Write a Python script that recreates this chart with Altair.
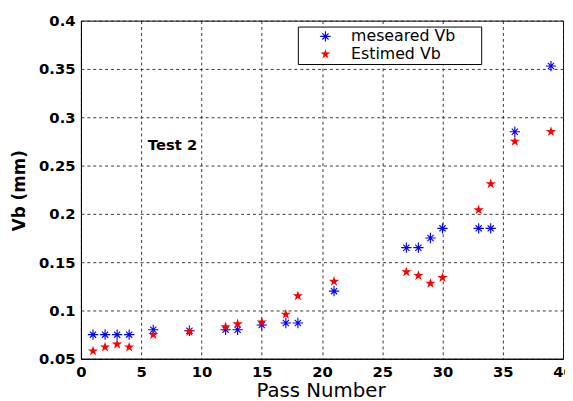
import altair as alt
import pandas as pd

# ---- data ----
pass_number = [1, 2, 3, 4, 6, 9, 12, 13, 15, 17, 18, 21, 27, 28, 29, 30, 33, 34, 36, 39]
vb_measured = [0.075, 0.075, 0.075, 0.075, 0.080, 0.079, 0.080, 0.080, 0.085, 0.087,
               0.087, 0.120, 0.165, 0.165, 0.175, 0.185, 0.185, 0.185, 0.285, 0.353]
vb_estimated = [0.058, 0.062, 0.065, 0.062, 0.075, 0.078, 0.083, 0.086, 0.088, 0.096,
                0.115, 0.130, 0.140, 0.136, 0.128, 0.134, 0.204, 0.231, 0.275, 0.285]
series_names = ["meseared Vb", "Estimed Vb"]
series_colors = ["#0000ff", "#ff0000"]
x_ticks = [0, 5, 10, 15, 20, 25, 30, 35, 40]
y_ticks = [0.05, 0.1, 0.15, 0.2, 0.25, 0.3, 0.35, 0.4]
note_text = ["Test 2"]
note_x = [7.6]
note_y = [0.271]

# marker shapes (SVG paths in unit square)
ASTERISK = ("M-1,-0.11H1V0.11H-1Z"
            "M-0.11,-1H0.11V1H-0.11Z"
            "M-0.678,-0.522L-0.522,-0.678L0.678,0.522L0.522,0.678Z"
            "M-0.678,0.522L0.522,-0.678L0.678,-0.522L-0.522,0.678Z")
STAR = ("M0,-1L0.225,-0.309L0.951,-0.309L0.363,0.118L0.588,0.809L0,0.382"
        "L-0.588,0.809L-0.363,0.118L-0.951,-0.309L-0.225,-0.309Z")

df = pd.DataFrame({
    "pass": pass_number * 2,
    "vb": vb_measured + vb_estimated,
    "series": [series_names[0]] * len(pass_number) + [series_names[1]] * len(pass_number),
})
notes = pd.DataFrame({"t": note_text, "x": note_x, "y": note_y})

FONT = "DejaVu Sans"
PAD = "\u2800"  # blank glyph that is not trimmed, widens the legend frame

x_enc = alt.X("pass:Q",
              scale=alt.Scale(domain=[0, 40], nice=False, zero=False),
              axis=alt.Axis(values=x_ticks, title="Pass Number", format="d",
                            titleX=243, titleY=38, titleBaseline="alphabetic",
                            titleAlign="center", titleFontWeight="normal",
                            titleFontSize=20))
y_enc = alt.Y("vb:Q",
              scale=alt.Scale(domain=[0.05, 0.4], nice=False, zero=False),
              axis=alt.Axis(values=y_ticks, title="Vb (mm)", format="~g",
                            titleX=-62, titleY=172, titleAngle=-90,
                            titleAlign="center", titleBaseline="middle",
                            titleFontWeight="bold", titleFontSize=17))
color_enc = alt.Color("series:N",
                      scale=alt.Scale(domain=series_names, range=series_colors),
                      legend=alt.Legend(title=None, orient="none", legendX=220, legendY=6,
                                        strokeColor="black", fillColor="white",
                                        padding=2, symbolOffset=18, labelOffset=18,
                                        symbolSize=110, symbolStrokeWidth=0,
                                        labelFont=FONT, labelFontSize=16,
                                        labelColor="black", rowPadding=2,
                                        labelExpr="datum.label + '" + PAD * 2 + "'"))
shape_enc = alt.Shape("series:N",
                      scale=alt.Scale(domain=series_names, range=[ASTERISK, STAR]),
                      legend=None)

base = alt.Chart(df)
meas = base.transform_filter(alt.datum.series == series_names[0]).mark_point(
    filled=True, size=110, opacity=1, strokeWidth=0
).encode(x=x_enc, y=y_enc, color=color_enc, shape=shape_enc)
est = base.transform_filter(alt.datum.series == series_names[1]).mark_point(
    filled=True, size=120, opacity=1, strokeWidth=0
).encode(x=x_enc, y=y_enc, color=color_enc, shape=shape_enc)

note = alt.Chart(notes).mark_text(
    font=FONT, fontSize=15, fontWeight="bold", color="black", align="center", baseline="middle"
).encode(x="x:Q", y="y:Q", text="t:N")

chart = alt.layer(meas, est, note).properties(
    width=489, height=343,
    autosize=alt.AutoSizeParams(type="none"),
    padding={"left": 74, "top": 10, "right": 2, "bottom": 40},
).configure_view(
    stroke="black", strokeWidth=1
).configure_axis(
    grid=True, gridColor="#222222", gridDash=[3, 3], gridWidth=1, gridOpacity=0.9,
    domain=True, domainColor="black", domainWidth=1,
    ticks=False, tickSize=0,
    labelFont=FONT, labelFontSize=15, labelFontWeight="bold", labelColor="black",
    labelPadding=6, labelFlush=False, labelOverlap=False,
    titleFont=FONT, titleColor="black",
)

chart.save("out.html", embed_options={"renderer": "svg", "actions": False})
